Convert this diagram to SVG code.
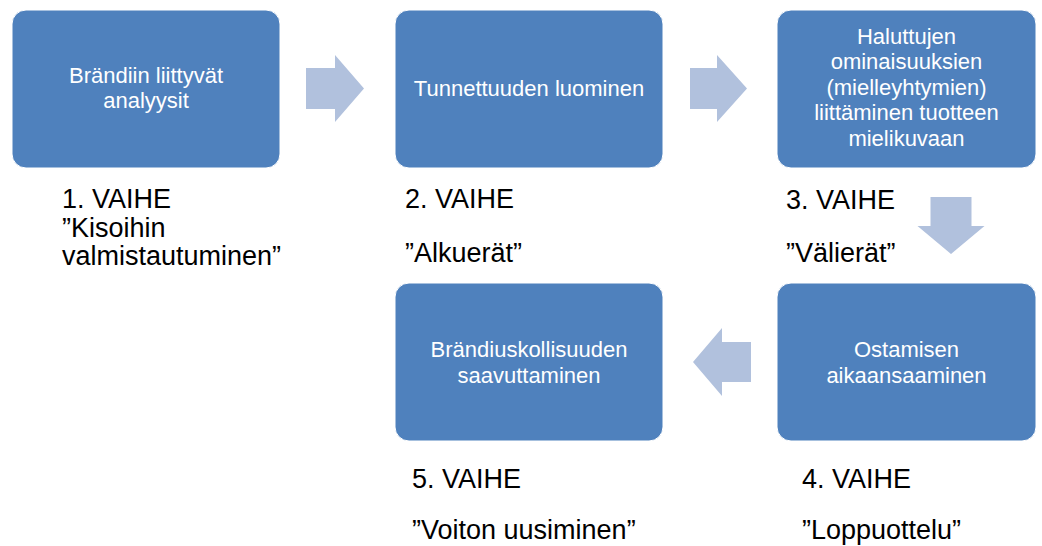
<svg xmlns="http://www.w3.org/2000/svg" width="1042" height="546" viewBox="0 0 1042 546">
<style>
.box{fill:#4F81BD;stroke:#FFFFFF;stroke-width:1}
.arr{fill:#B1C1DD}
.bt{font-family:"Liberation Sans",Arial,sans-serif;font-size:22px;fill:#FFFFFF;text-anchor:middle}
.lb{font-family:"Liberation Sans",Arial,sans-serif;font-size:27px;fill:#000000}
</style>
<rect width="1042" height="546" fill="#FFFFFF"/>
<g id="connectors">
<polygon class="arr" points="306,68 335,68 335,55 364,88.5 335,122 335,109 306,109"/>
<polygon class="arr" points="690,68 717,68 717,55 747,88.5 717,122 717,109 690,109"/>
<polygon class="arr" points="930.5,197 971.5,197 971.5,226 984.5,226 951,254 917.5,226 930.5,226"/>
<polygon class="arr" points="751,342 722,342 722,328 693,362 722,396 722,382 751,382"/>
</g>
<g id="node1">
<rect class="box" x="12" y="10" width="268" height="158" rx="14"/>
<text class="bt" x="146" y="83">Brändiin liittyvät</text>
<text class="bt" x="146" y="108">analyysit</text>
<text class="lb" x="62" y="208">1. VAIHE</text>
<text class="lb" x="62" y="237">”Kisoihin</text>
<text class="lb" x="62" y="265">valmistautuminen”</text>
</g>
<g id="node2">
<rect class="box" x="395" y="10" width="268" height="158" rx="14"/>
<text class="bt" x="529" y="96">Tunnettuuden luominen</text>
<text class="lb" x="405" y="208">2. VAIHE</text>
<text class="lb" x="405" y="262">”Alkuerät”</text>
</g>
<g id="node3">
<rect class="box" x="777" y="10" width="259" height="158" rx="14"/>
<text class="bt" x="906.5" y="43.5">Haluttujen</text>
<text class="bt" x="906.5" y="69">ominaisuuksien</text>
<text class="bt" x="906.5" y="94.5">(mielleyhtymien)</text>
<text class="bt" x="906.5" y="120">liittäminen tuotteen</text>
<text class="bt" x="906.5" y="145.5">mielikuvaan</text>
<text class="lb" x="786" y="209">3. VAIHE</text>
<text class="lb" x="786" y="262">”Välierät”</text>
</g>
<g id="node4">
<rect class="box" x="777" y="283" width="259" height="158" rx="14"/>
<text class="bt" x="906.5" y="357">Ostamisen</text>
<text class="bt" x="906.5" y="383">aikaansaaminen</text>
<text class="lb" x="802" y="488">4. VAIHE</text>
<text class="lb" x="802" y="539">”Loppuottelu”</text>
</g>
<g id="node5">
<rect class="box" x="395" y="283" width="268" height="158" rx="14"/>
<text class="bt" x="529" y="357">Brändiuskollisuuden</text>
<text class="bt" x="529" y="383">saavuttaminen</text>
<text class="lb" x="412" y="488">5. VAIHE</text>
<text class="lb" x="412" y="539">”Voiton uusiminen”</text>
</g>
</svg>
